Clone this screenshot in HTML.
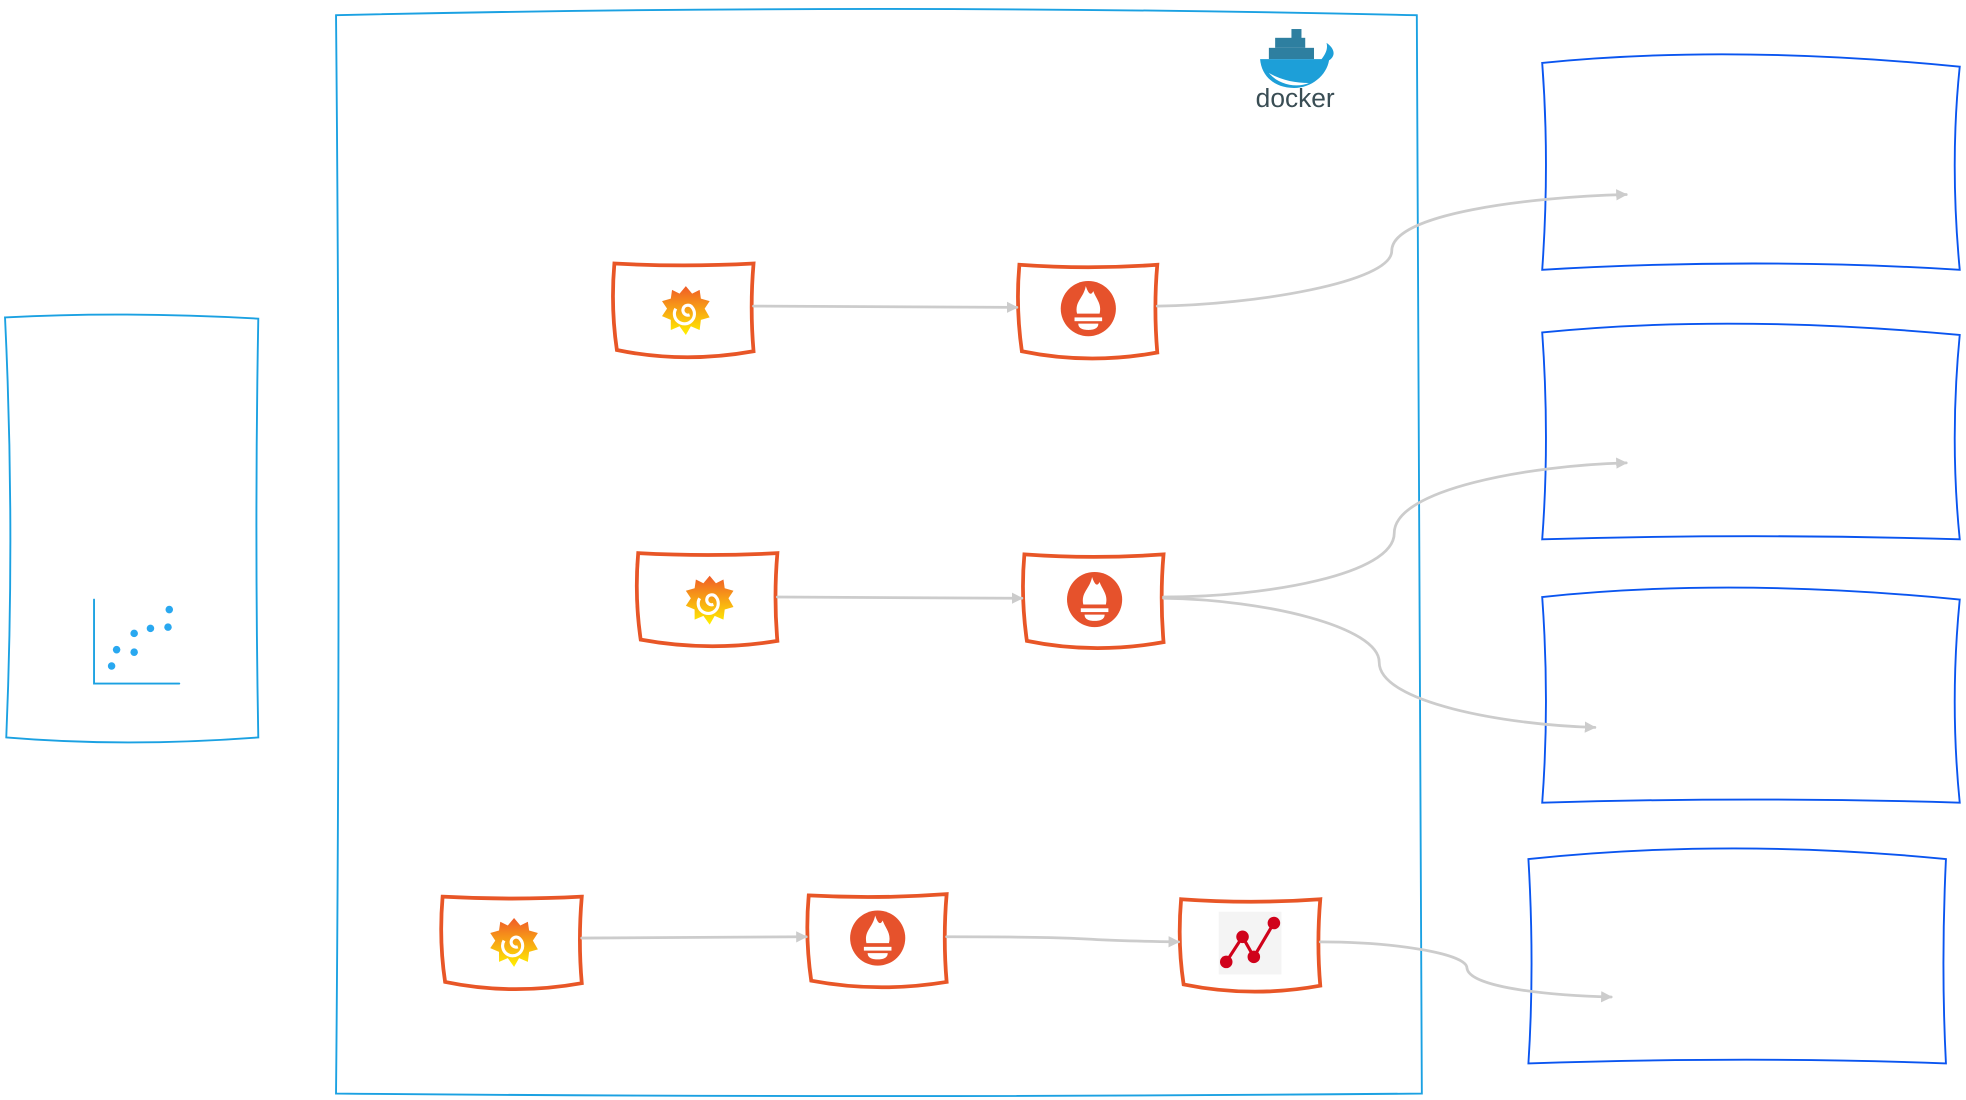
<!DOCTYPE html>
<html><head><meta charset="utf-8"><style>html,body{margin:0;padding:0;background:#fff}svg{display:block}</style></head>
<body>
<svg width="1966" height="1100" viewBox="0 0 1568 877" xmlns="http://www.w3.org/2000/svg">
<defs>
<marker id="ar" markerWidth="9" markerHeight="9" refX="8" refY="4.5" orient="auto" markerUnits="userSpaceOnUse"><path d="M0,0 L9,4.5 L0,9 z" fill="#ccc"/></marker>
<linearGradient id="gg" x1="0" y1="0" x2="0" y2="1"><stop offset="0" stop-color="#f05a28"/><stop offset="1" stop-color="#fff100"/></linearGradient>
<g id="graf"><path d="M0,-20 L5,-14 L11,-17 L12,-10 L19,-8 L15,-2 L19,5 L12,7 L11,15 L4,12 L0,19 L-5,12 L-12,15 L-12,7 L-19,4 L-15,-2 L-19,-8 L-12,-10 L-11,-17 L-5,-14 z" fill="url(#gg)"/><path d="M3,3 A4,4 0 1 1 5,-3 A8,8 0 1 1 -8,-2" fill="none" stroke="#fff" stroke-width="2.5"/></g>
<g id="prom"><ellipse rx="22" ry="22" fill="#e6522c"/><path d="M-9,4 C-11,-6 -4,-8 -2,-18 C0,-12 2,-10 4,-14 C6,-8 11,-4 9,4 z" fill="#fff"/><rect x="-11" y="7" width="22" height="3" fill="#fff"/><path d="M-8,12 L8,12 C8,16 4,17 0,17 C-4,17 -8,16 -8,12 z" fill="#fff"/></g>
</defs>
<g fill="none" stroke-linecap="round">
<path d="M268,12 Q700,2 1130,12 L1134,872 Q700,876 268,872 Q272,440 268,12 z" stroke="#1ba1e2" stroke-width="1.5"/>
<path d="M4,253 Q100,248 206,254 Q203,420 206,588 Q100,596 5,588 Q12,420 4,253 z" stroke="#1ba1e2" stroke-width="1.5"/>
<path d="M1230,50 Q1380,35 1563,53 Q1555,130 1563,215 Q1400,205 1230,215 Q1236,130 1230,50 z" stroke="#0a55f0" stroke-width="1.5"/>
<path d="M1230,265 Q1380,250 1563,267 Q1555,350 1563,430 Q1400,425 1230,430 Q1236,350 1230,265 z" stroke="#0a55f0" stroke-width="1.5"/>
<path d="M1230,476 Q1380,460 1563,478 Q1555,560 1563,640 Q1400,635 1230,640 Q1236,560 1230,476 z" stroke="#0a55f0" stroke-width="1.5"/>
<path d="M1219,685 Q1380,668 1552,685 Q1548,770 1552,848 Q1400,842 1219,848 Q1224,770 1219,685 z" stroke="#0a55f0" stroke-width="1.5"/>
<g stroke="#e85627" stroke-width="3">
<path d="M490,210 Q545,213 601,210 Q598,245 601,280 Q545,290 492,279 Q487,245 490,210 z"/>
<path d="M813,211 Q868,215 923,211 Q920,245 923,281 Q868,291 815,280 Q810,245 813,211 z"/>
<path d="M509,441 Q565,444 620,441 Q617,476 620,511 Q565,520 511,510 Q506,476 509,441 z"/>
<path d="M817,442 Q872,446 928,442 Q925,476 928,512 Q872,522 819,511 Q814,476 817,442 z"/>
<path d="M353,715 Q408,718 464,715 Q461,750 464,784 Q408,794 355,783 Q350,750 353,715 z"/>
<path d="M645,714 Q700,717 755,713 Q752,748 755,783 Q700,792 647,782 Q642,748 645,714 z"/>
<path d="M942,717 Q998,721 1053,717 Q1050,752 1053,786 Q998,796 944,785 Q939,752 942,717 z"/>
</g>
<g stroke="#cccccc" stroke-width="2.2">
<path d="M601,244 L811,245" marker-end="url(#ar)"/>
<path d="M923,244 C1000,243 1110,225 1110,200 C1110,170 1220,157 1297,155" marker-end="url(#ar)"/>
<path d="M620,476 L815,477" marker-end="url(#ar)"/>
<path d="M928,476 C1010,476 1112,458 1112,425 C1112,390 1220,371 1297,369" marker-end="url(#ar)"/>
<path d="M928,477 C1010,478 1100,500 1100,528 C1100,560 1200,578 1272,580" marker-end="url(#ar)"/>
<path d="M464,748 L643,747" marker-end="url(#ar)"/>
<path d="M755,747 C900,747 840,750 940,751" marker-end="url(#ar)"/>
<path d="M1053,751 C1110,751 1170,760 1170,772 C1172,788 1240,794 1285,795" marker-end="url(#ar)"/>
</g>
<path d="M75,478 L75,545 L143,545" stroke="#1ba1e2" stroke-width="1.5"/>
</g>
<g fill="#29a8f0"><circle cx="89" cy="531" r="3"/><circle cx="93" cy="518" r="3"/><circle cx="107" cy="505" r="3"/><circle cx="107" cy="520" r="3"/><circle cx="120" cy="501" r="3"/><circle cx="134" cy="500" r="3"/><circle cx="135" cy="486" r="3"/></g>
<use href="#graf" x="547" y="248"/><use href="#graf" x="566" y="479"/><use href="#graf" x="410" y="752"/>
<use href="#prom" x="868" y="246"/><use href="#prom" x="873" y="478"/><use href="#prom" x="700" y="748"/>
<rect x="972" y="727" width="50" height="50" fill="#f4f4f4"/>
<path d="M978,767 L991,747 L1000,763 L1016,736" stroke="#d0021b" stroke-width="2.5" fill="none"/>
<g fill="#d0021b"><circle cx="978" cy="767" r="5"/><circle cx="991" cy="747" r="5"/><circle cx="1000" cy="763" r="5"/><circle cx="1016" cy="736" r="5"/></g>
<g>
<rect x="1030" y="23" width="8" height="13" fill="#2e7fa0"/>
<rect x="1017" y="30" width="24" height="8" fill="#2e7fa0"/>
<rect x="1012" y="38" width="36" height="9" fill="#2e7fa0"/>
<path d="M1005,47 L1054,47 C1058,42 1059,38 1058,34 C1064,38 1066,44 1060,48 C1058,60 1046,70 1032,70 C1016,70 1006,60 1005,47 z" fill="#1d9fd8"/>
<path d="M1012,58 C1020,68 1035,70 1044,66 C1034,66 1022,64 1012,58 z" fill="#fff"/>
<text x="1033" y="85" font-family="Liberation Sans Narrow, Liberation Sans, sans-serif" font-size="21" fill="#394d54" text-anchor="middle">docker</text>
</g>
</svg>
</body></html>
